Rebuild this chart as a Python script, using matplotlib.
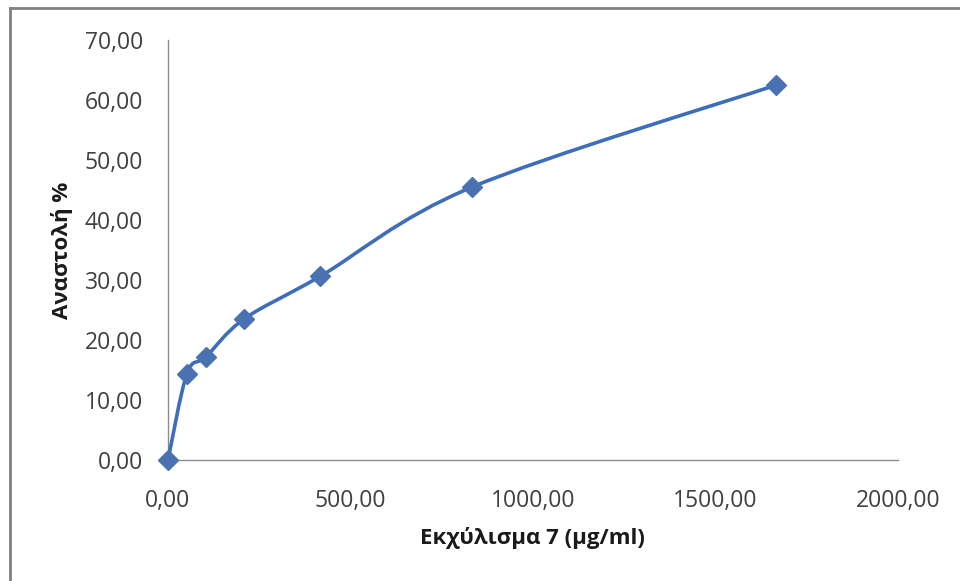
import matplotlib
matplotlib.use("Agg")
import matplotlib.pyplot as plt
from matplotlib.path import Path
from matplotlib.patches import PathPatch
from matplotlib.lines import Line2D
from matplotlib.ticker import FuncFormatter
import numpy as np

# Data
concentration = [0.0, 52.08, 104.17, 208.33, 416.67, 833.33, 1666.67]
inhibition = [0.0, 14.4, 17.2, 23.5, 30.6, 45.5, 62.5]
x_ticks = [0, 500, 1000, 1500, 2000]
y_ticks = [0, 10, 20, 30, 40, 50, 60, 70]
x_label = "Εκχύλισμα 7 (μg/ml)"
y_label = "Αναστολή %"

plt.rcParams['font.family'] = ['Open Sans', 'DejaVu Sans']

fig = plt.figure(figsize=(9.6, 5.81), dpi=100)
W, H = 960, 581
ax = fig.add_axes([168 / W, 1 - 460 / H, (898 - 168) / W, (460 - 40) / H])

color = '#3E6DBA'

# Excel-like smoothed line (Catmull-Rom style Bezier through data points)
xs = np.array(concentration)
ys = np.array(inhibition)
verts = [(xs[0], ys[0])]
codes = [Path.MOVETO]
n = len(xs)
for i in range(n - 1):
    p0 = np.array([xs[max(i - 1, 0)], ys[max(i - 1, 0)]])
    p1 = np.array([xs[i], ys[i]])
    p2 = np.array([xs[i + 1], ys[i + 1]])
    p3 = np.array([xs[min(i + 2, n - 1)], ys[min(i + 2, n - 1)]])
    c1 = p1 + (p2 - p0) / 6.0
    c2 = p2 - (p3 - p1) / 6.0
    verts += [tuple(c1), tuple(c2), tuple(p2)]
    codes += [Path.CURVE4] * 3
path = Path(verts, codes)
ax.add_patch(PathPatch(path, facecolor='none', edgecolor=color, lw=2.6,
                       capstyle='round', joinstyle='round', clip_on=False, zorder=3))

ax.plot(concentration, inhibition, linestyle='none', marker='D', markersize=10,
        color='#4A72B2', markeredgecolor='#4A72B2', clip_on=False, zorder=4)

ax.set_xlim(0, 2000)
ax.set_ylim(0, 70)
ax.set_xticks(x_ticks)
ax.set_yticks(y_ticks)
fmt = FuncFormatter(lambda v, p: f"{v:.2f}".replace('.', ','))
ax.xaxis.set_major_formatter(fmt)
ax.yaxis.set_major_formatter(fmt)
ax.tick_params(axis='both', length=0, labelsize=16.5, colors='#404040')
ax.tick_params(axis='x', pad=21)
ax.tick_params(axis='y', pad=18)

for s in ['top', 'right']:
    ax.spines[s].set_visible(False)
for s in ['left', 'bottom']:
    ax.spines[s].set_color('#8C8C8C')
    ax.spines[s].set_linewidth(1.0)

ax.set_xlabel(x_label, fontsize=16, fontweight='bold', color='#1A1A1A')
ax.set_ylabel(y_label, fontsize=16, fontweight='bold', color='#1A1A1A')
ax.xaxis.set_label_coords((532 - 168) / 730, (460 - 527) / 420)
ax.yaxis.set_label_coords((73 - 168) / 730, (460 - 250) / 420)

# Outer chart border (only top and left edges are inside the image)
fig.add_artist(Line2D([9.5 / W, 9.5 / W], [0, 1 - 8 / H], transform=fig.transFigure,
                      color='#808080', lw=2.0))
fig.add_artist(Line2D([9.5 / W, 1], [1 - 8 / H, 1 - 8 / H], transform=fig.transFigure,
                      color='#808080', lw=2.0))

fig.savefig('out.png', dpi=100)
